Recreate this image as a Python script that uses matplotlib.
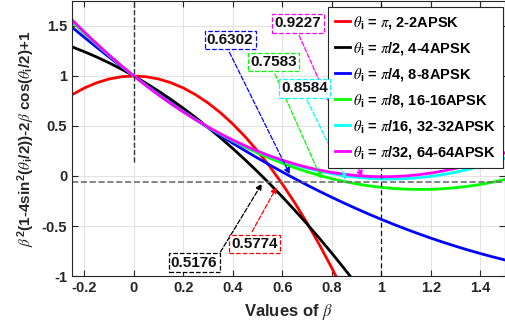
import matplotlib
matplotlib.use('Agg')
import matplotlib.pyplot as plt

# beta grid and curve values
beta = [-0.25, -0.2, -0.15, -0.1, -0.05, 0.0, 0.05, 0.1, 0.15, 0.2, 0.25, 0.3,
        0.35, 0.4, 0.45, 0.5, 0.55, 0.6, 0.65, 0.7, 0.75, 0.8, 0.85, 0.9,
        0.95, 1.0, 1.05, 1.1, 1.15, 1.2, 1.25, 1.3, 1.35, 1.4, 1.45, 1.5]
y_pi = [0.8125, 0.88, 0.9325, 0.97, 0.9925, 1.0, 0.9925, 0.97, 0.9325, 0.88,
        0.8125, 0.73, 0.6325, 0.52, 0.3925, 0.25, 0.0925, -0.08, -0.2675, -0.47,
        -0.6875, -0.92, -1.1675, -1.43, -1.7075, -2.0, -2.3075, -2.63, -2.9675,
        -3.32, -3.6875, -4.07, -4.4675, -4.88, -5.3075, -5.75]
y_pi2 = [1.2911, 1.2428, 1.1896, 1.1314, 1.0682, 1.0, 0.9268, 0.8486, 0.7654,
         0.6772, 0.584, 0.4857, 0.3825, 0.2743, 0.1611, 0.0429, -0.0803, -0.2085,
         -0.3418, -0.48, -0.6232, -0.7714, -0.9246, -1.0828, -1.246, -1.4142,
         -1.5874, -1.7656, -1.9489, -2.1371, -2.3303, -2.5285, -2.7317, -2.9399,
         -3.1531, -3.3713]
y_pi4 = [1.4879, 1.3861, 1.2865, 1.1889, 1.0935, 1.0, 0.9087, 0.8194, 0.7322,
         0.647, 0.564, 0.483, 0.4041, 0.3272, 0.2525, 0.1797, 0.1091, 0.0405,
         -0.026, -0.0905, -0.1528, -0.2131, -0.2713, -0.3275, -0.3816, -0.4336,
         -0.4835, -0.5313, -0.5771, -0.6209, -0.6625, -0.7021, -0.7396, -0.775,
         -0.8084, -0.8397]
y_pi8 = [1.5434, 1.4262, 1.3133, 1.2046, 1.1002, 1.0, 0.9041, 0.8123, 0.7249,
         0.6416, 0.5626, 0.4878, 0.4173, 0.351, 0.289, 0.2312, 0.1776, 0.1282,
         0.0832, 0.0423, 0.0057, -0.0267, -0.0548, -0.0787, -0.0984, -0.1138,
         -0.125, -0.1319, -0.1346, -0.1331, -0.1273, -0.1173, -0.1031, -0.0846,
         -0.0619, -0.0349]
y_pi16 = [1.5577, 1.4365, 1.3202, 1.2087, 1.102, 1.0, 0.9029, 0.8106, 0.7231,
          0.6404, 0.5625, 0.4894, 0.4212, 0.3577, 0.2991, 0.2452, 0.1962, 0.152,
          0.1126, 0.0779, 0.0481, 0.0231, 0.0029, -0.0125, -0.0231, -0.0288,
          -0.0298, -0.0259, -0.0173, -0.0038, 0.0145, 0.0376, 0.0655, 0.0982,
          0.1357, 0.178]
y_pi32 = [1.5613, 1.4391, 1.3219, 1.2097, 1.1024, 1.0, 0.9026, 0.8101, 0.7226,
          0.6401, 0.5625, 0.4899, 0.4222, 0.3594, 0.3016, 0.2488, 0.2009, 0.158,
          0.12, 0.087, 0.0589, 0.0358, 0.0176, 0.0044, -0.0039, -0.0072,
          -0.0056, 0.001, 0.0125, 0.029, 0.0505, 0.0769, 0.1082, 0.1445, 0.1857,
          0.2319]

labels = [r'$\theta_{\mathbf{i}}$ = $\pi$, 2-2APSK',
          r'$\theta_{\mathbf{i}}$ = $\pi$/2, 4-4APSK',
          r'$\theta_{\mathbf{i}}$ = $\pi$/4, 8-8APSK',
          r'$\theta_{\mathbf{i}}$ = $\pi$/8, 16-16APSK',
          r'$\theta_{\mathbf{i}}$ = $\pi$/16, 32-32APSK',
          r'$\theta_{\mathbf{i}}$ = $\pi$/32, 64-64APSK']
colors = ['#ff0000', '#000000', '#0000ff', '#00ff00', '#00ffff', '#ff00ff']

# crossing points marked with the text arrows
roots = [0.5774, 0.5176, 0.6302, 0.7583, 0.8584, 0.9227]
root_y = [-0.11, -0.076, 0.017, -0.03, -0.04, -0.01]
# text box centres and arrow tails (data coords), one per curve
box_xy = [(0.487, -0.678), (0.2435, -0.866), (0.389, 1.358),
          (0.564, 1.14), (0.690, 0.877), (0.663, 1.525)]
tail_xy = [(0.478, -0.556), (0.35, -0.76), (0.386, 1.238),
           (0.57, 1.02), (0.70, 0.757), (0.668, 1.405)]

plt.rcParams['font.family'] = 'Liberation Sans'
plt.rcParams['mathtext.fontset'] = 'custom'
plt.rcParams['mathtext.rm'] = 'Liberation Sans:bold'
plt.rcParams['mathtext.bf'] = 'Liberation Sans:bold'
plt.rcParams['mathtext.it'] = 'STIXGeneral:italic'

fig = plt.figure(figsize=(5.05, 3.30), dpi=100)
ax = fig.add_axes([72 / 505, 54 / 330, 433 / 505, 275 / 330])

series = [y_pi, y_pi2, y_pi4, y_pi8, y_pi16, y_pi32]
for ys, c, lab in zip(series, colors, labels):
    ax.plot(beta, ys, color=c, lw=2, label=lab)

# reference lines
ax.plot([0, 0], [0.14, 1.75], color='#333333', ls='--', lw=1)
ax.plot([1, 1], [-1, 1.75], color='#111111', ls=(0, (4, 2.5)), lw=0.9)
ax.axhline(-0.06, color='#707070', ls='--', lw=1.2)

# text arrows
for r, ry, (bx, by), (tx, ty), c in zip(roots, root_y, box_xy, tail_xy, colors):
    ax.annotate('', xy=(r, ry), xytext=(tx, ty),
                arrowprops=dict(arrowstyle='-|>', color=c, ls='--', lw=0.9,
                                mutation_scale=9, shrinkA=0, shrinkB=0))
    ax.text(bx, by, '%.4f' % r, ha='center', va='center', fontsize=11,
            fontweight='bold', color='#111111', zorder=6,
            bbox=dict(boxstyle='square,pad=0.15', fc='white', ec=c, ls='--', lw=0.9))

ax.set_xlim(-0.25, 1.5)
ax.set_ylim(-1, 1.75)
ax.set_xticks([-0.2, 0, 0.2, 0.4, 0.6, 0.8, 1.0, 1.2, 1.4])
ax.set_xticklabels(['-0.2', '0', '0.2', '0.4', '0.6', '0.8', '1', '1.2', '1.4'])
ax.set_yticks([-1, -0.5, 0, 0.5, 1, 1.5])
ax.set_yticklabels(['-1', '-0.5', '0', '0.5', '1', '1.5'])
ax.grid(True, color='#e3e3e3', lw=0.8)
ax.set_axisbelow(True)
ax.tick_params(direction='in', top=True, right=True, length=4,
               colors='#262626', labelsize=10.5)
for lbl in ax.get_xticklabels() + ax.get_yticklabels():
    lbl.set_fontweight('bold')
for sp in ax.spines.values():
    sp.set_color('#262626')

ax.set_xlabel(r'Values of $\beta$', fontsize=12, fontweight='bold',
              color='#262626', labelpad=5)
ax.set_ylabel(r'$\beta^2$(1-4sin$^2$($\theta_{\mathbf{i}}$/2))-2$\beta$ cos($\theta_{\mathbf{i}}$/2)+1',
              fontsize=11, fontweight='bold', color='#262626', labelpad=3)

leg = ax.legend(loc='upper right', bbox_to_anchor=(0.9947, 0.977),
                prop={'weight': 'bold', 'size': 10.5}, fancybox=False,
                framealpha=1, edgecolor='#262626', handlelength=1.05,
                handletextpad=0.2, labelspacing=0.62, borderpad=0.45,
                borderaxespad=0)
leg.set_zorder(5)
leg.get_frame().set_linewidth(0.8)

fig.savefig('out.png', dpi=100)
